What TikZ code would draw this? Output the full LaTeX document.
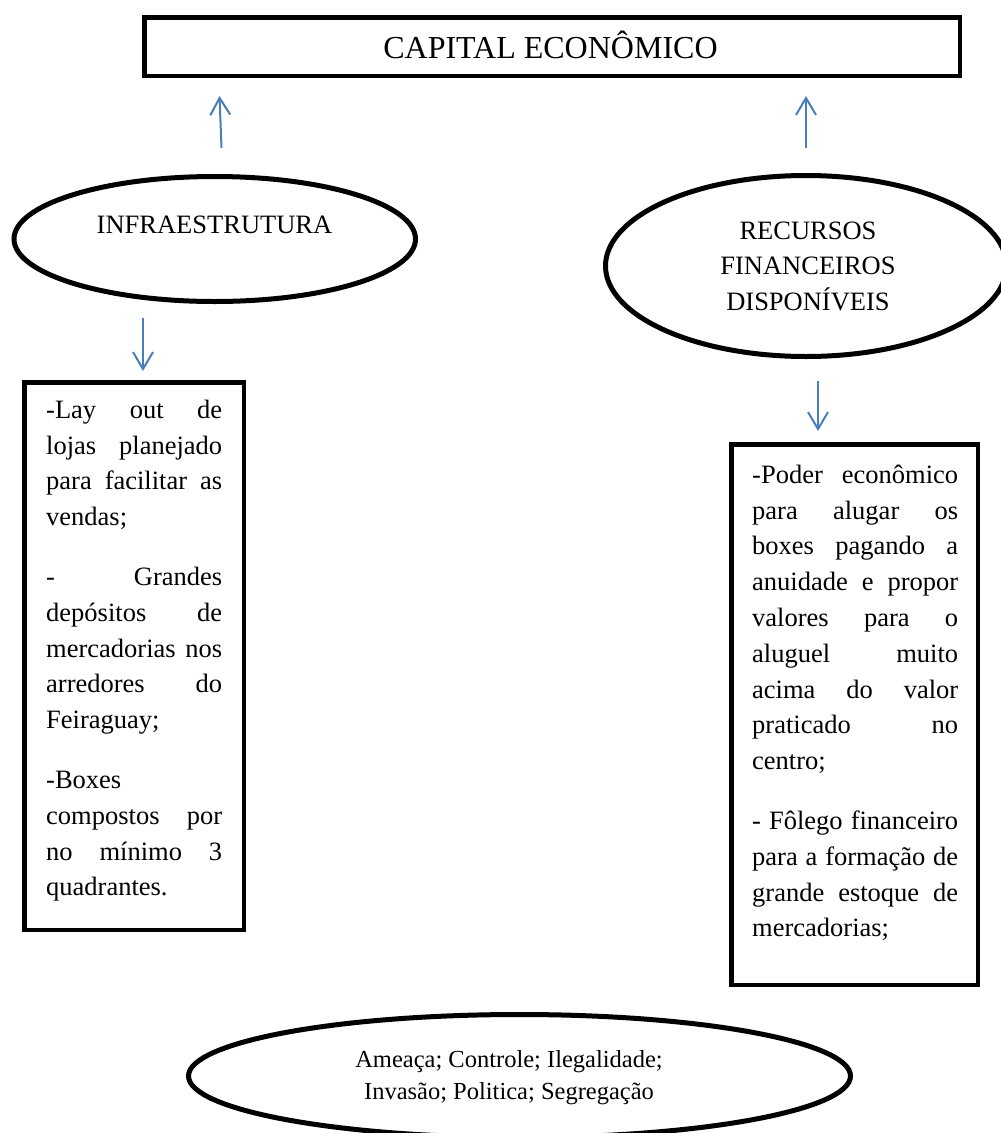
\documentclass[tikz,border=0pt]{standalone}
\usepackage{fontspec}
\setmainfont{Liberation Serif}
\usetikzlibrary{arrows.meta,shapes.geometric}
\definecolor{arrowblue}{RGB}{74,126,187}
\newlength{\leftbw}\setlength{\leftbw}{176pt}
\newlength{\rightbw}\setlength{\rightbw}{206pt}
\newcommand{\linejl}[1]{\makebox[\leftbw][s]{#1}}
\newcommand{\linejr}[1]{\makebox[\rightbw][s]{#1}}
\begin{document}
\begin{tikzpicture}[x=1pt,y=-1pt,
  frame/.style={draw=black,line width=4.5pt,rectangle,inner sep=0pt},
  oval/.style={draw=black,line width=5pt,ellipse,inner sep=0pt},
  conn/.style={draw=arrowblue,line width=2pt,-{Straight Barb[length=17pt,width=20pt]}},
  bodytext/.style={font=\fontsize{26.5}{35.8}\selectfont,align=left,inner sep=0pt,anchor=north west},
  ovaltext/.style={font=\fontsize{26.5}{35.5}\selectfont,align=center,inner sep=0pt},
]
\useasboundingbox (0,0) rectangle (1001,1133);

% top box
\node[frame,minimum width=815.5pt,minimum height=58.5pt] (capital) at (552,46.5) {};
\node[font=\fontsize{32}{36}\selectfont,inner sep=0pt,anchor=base] (capitaltxt) at (550.5,58) {CAPITAL ECONÔMICO};

% ellipses
\node[oval,minimum width=401.5pt,minimum height=125pt] (infra) at (214.75,239) {};
\node[ovaltext,anchor=base] (infratxt) at (214.5,233) {INFRAESTRUTURA};

\node[oval,minimum width=401pt,minimum height=181pt] (recursos) at (806,266) {};
\node[ovaltext,anchor=north] (recursostxt) at (808,214) {\rule{0pt}{25pt}RECURSOS\\FINANCEIROS\\DISPONÍVEIS};

\node[oval,minimum width=662pt,minimum height=123pt] (ameaca) at (519.5,1076) {};
\node[font=\fontsize{24.5}{32}\selectfont,align=center,inner sep=0pt,anchor=north] (ameacatxt) at (509,1045)
  {\rule{0pt}{22pt}Ameaça; Controle; Ilegalidade;\\Invasão; Politica; Segregação};

% text boxes
\node[frame,minimum width=219.5pt,minimum height=547.5pt] (leftbox) at (134,656) {};
\node[bodytext] (lefttxt) at (46,394) {%
\rule{0pt}{24pt}\linejl{-Lay out de}\\
\linejl{lojas planejado}\\
\linejl{para facilitar as}\\
vendas;\\[24pt]
\linejl{- Grandes}\\
\linejl{depósitos de}\\
\linejl{mercadorias nos}\\
\linejl{arredores do}\\
Feiraguay;\\[24pt]
-Boxes\\
\linejl{compostos por}\\
\linejl{no mínimo 3}\\
quadrantes.};

\node[frame,minimum width=246.5pt,minimum height=540.5pt] (rightbox) at (854.5,714.5) {};
\node[bodytext] (righttxt) at (752,459) {%
\rule{0pt}{24pt}\linejr{-Poder econômico}\\
\linejr{para alugar os}\\
\linejr{boxes pagando a}\\
\linejr{anuidade e propor}\\
\linejr{valores para o}\\
\linejr{aluguel muito}\\
\linejr{acima do valor}\\
\linejr{praticado no}\\
centro;\\[24pt]
\linejr{- Fôlego financeiro}\\
\linejr{para a formação de}\\
\linejr{grande estoque de}\\
mercadorias;};

% connectors
\coordinate (a1s) at (221.5,148);
\coordinate (a1e) at (219.5,96);
\coordinate (a2s) at (806,148);
\coordinate (a2e) at (806,96);
\coordinate (a3s) at (143,318);
\coordinate (a3e) at (143,371);
\coordinate (a4s) at (818,381);
\coordinate (a4e) at (818,431);
\draw[conn] (a1s) -- (a1e);
\draw[conn] (a2s) -- (a2e);
\draw[conn] (a3s) -- (a3e);
\draw[conn] (a4s) -- (a4e);
\end{tikzpicture}
\end{document}
